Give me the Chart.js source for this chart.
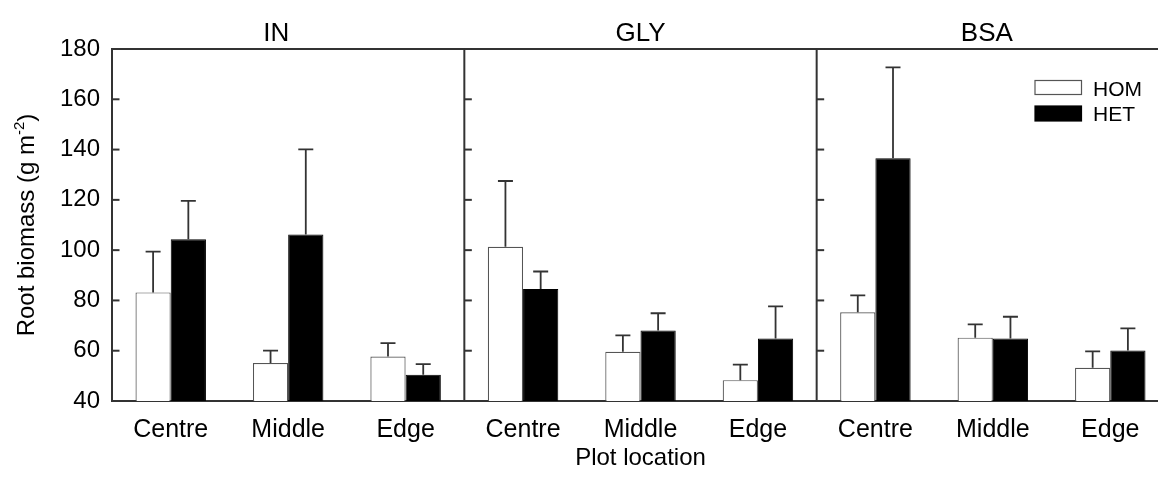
<!DOCTYPE html>
<html><head><meta charset="utf-8">
<script src="https://cdn.jsdelivr.net/npm/chart.js@4/dist/chart.umd.min.js"></script>
<style>
html,body{margin:0;padding:0;background:#fff;overflow:hidden;}
#wrap{width:1158px;height:485px;overflow:hidden;position:relative;background:#fff;}
canvas{display:block;}
</style></head><body>
<div id="wrap"><canvas id="c" width="1169" height="485"></canvas></div>
<script>
// ---- data ----
const panels = ['IN', 'GLY', 'BSA'];
const locations = ['Centre', 'Middle', 'Edge'];
// order: IN(Centre, Middle, Edge), GLY(...), BSA(...)
const homMean = [83.2, 55.1, 57.7, 101.3, 59.6, 48.3, 75.3, 65.2, 53.2];
const homSE   = [16.2, 4.9, 5.3, 26.2, 6.5, 6.2, 6.7, 5.3, 6.5];
const hetMean = [104.3, 106.2, 50.4, 84.5, 68.0, 64.9, 136.5, 64.9, 60.1];
const hetSE   = [15.3, 33.9, 4.3, 7.0, 6.9, 12.7, 36.2, 8.6, 8.8];
const yTickValues = [40, 60, 80, 100, 120, 140, 160, 180];
const seriesNames = ['HOM', 'HET'];

const xLabels = panels.flatMap(() => locations);
const FONT = "'Liberation Sans', Arial, Helvetica, sans-serif";
const AXIS = '#333333';

const framePlugin = {
  id: 'frame',
  afterDatasetsDraw(chart) {
    const ctx = chart.ctx;
    const y = chart.scales.y;
    const ses = [homSE, hetSE];
    const means = [homMean, hetMean];
    ctx.save();
    ctx.strokeStyle = AXIS; ctx.lineWidth = 1.8;
    chart.data.datasets.forEach((ds, i) => {
      const meta = chart.getDatasetMeta(i);
      meta.data.forEach((bar, j) => {
        const y0 = y.getPixelForValue(means[i][j]);
        const y1 = y.getPixelForValue(means[i][j] + ses[i][j]);
        ctx.beginPath();
        ctx.moveTo(bar.x, y0); ctx.lineTo(bar.x, y1);
        ctx.moveTo(bar.x - 7.5, y1); ctx.lineTo(bar.x + 7.5, y1);
        ctx.stroke();
      });
    });
    ctx.restore();
  },
  afterDraw(chart) {
    const ctx = chart.ctx, ca = chart.chartArea;
    const x = chart.scales.x, y = chart.scales.y;
    ctx.save();
    ctx.strokeStyle = AXIS; ctx.lineWidth = 2;
    ctx.beginPath(); ctx.moveTo(ca.left - 1, ca.top); ctx.lineTo(ca.right, ca.top); ctx.stroke();
    const lefts = [ca.left];
    for (let p = 1; p < panels.length; p++) {
      const xd = (x.getPixelForValue(p * 3 - 1) + x.getPixelForValue(p * 3)) / 2;
      lefts.push(xd);
      ctx.beginPath(); ctx.moveTo(xd, ca.top); ctx.lineTo(xd, ca.bottom); ctx.stroke();
    }
    lefts.forEach(xl => {
      yTickValues.forEach(v => {
        const yy = y.getPixelForValue(v);
        ctx.beginPath(); ctx.moveTo(xl, yy); ctx.lineTo(xl + 7.5, yy); ctx.stroke();
      });
    });
    // panel titles
    ctx.fillStyle = '#000';
    ctx.font = '26px ' + FONT;
    ctx.textAlign = 'center'; ctx.textBaseline = 'alphabetic';
    const shift = [-12, 0, -6];
    panels.forEach((t, p) => {
      const cx = x.getPixelForValue(p * 3 + 1);
      ctx.fillText(t, cx + shift[p], 41);
    });
    // y axis title with superscript
    ctx.save();
    ctx.translate(34, (ca.top + ca.bottom) / 2);
    ctx.rotate(-Math.PI / 2);
    const mainFont = '24px ' + FONT, supFont = '15px ' + FONT;
    const a = 'Root biomass (g m', sup = '-2', b = ')';
    ctx.font = mainFont;
    const wa = ctx.measureText(a).width, wb = ctx.measureText(b).width;
    ctx.font = supFont; const ws = ctx.measureText(sup).width;
    const sx = -(wa + ws + wb) / 2;
    ctx.textAlign = 'left';
    ctx.font = mainFont; ctx.fillText(a, sx, 0);
    ctx.font = supFont; ctx.fillText(sup, sx + wa, -10);
    ctx.font = mainFont; ctx.fillText(b, sx + wa + ws, 0);
    ctx.restore();
    // legend
    const ds = chart.data.datasets;
    const boxes = [[1035, 80.5, 46.5, 14], [1035, 106, 46.5, 15]];
    const baselines = [96, 121];
    ds.forEach((d, i) => {
      const [bx, by, bw, bh] = boxes[i];
      ctx.fillStyle = d.backgroundColor;
      ctx.fillRect(bx, by, bw, bh);
      ctx.lineWidth = 1.2; ctx.strokeStyle = d.borderColor;
      ctx.strokeRect(bx, by, bw, bh);
      ctx.fillStyle = '#000'; ctx.font = '21px ' + FONT;
      ctx.textAlign = 'left';
      ctx.fillText(d.label, 1093, baselines[i]);
    });
    ctx.restore();
  }
};

new Chart(document.getElementById('c'), {
  type: 'bar',
  data: {
    labels: xLabels,
    datasets: [
      { label: seriesNames[0], data: homMean, backgroundColor: '#ffffff', borderColor: '#555555', borderWidth: 1.2 },
      { label: seriesNames[1], data: hetMean, backgroundColor: '#000000', borderColor: '#000000', borderWidth: 1 }
    ]
  },
  options: {
    responsive: false,
    animation: false,
    devicePixelRatio: 1,
    layout: { padding: { top: 49, left: 0, right: 0, bottom: 0 } },
    plugins: { legend: { display: false }, tooltip: { enabled: false } },
    datasets: { bar: { categoryPercentage: 0.6, barPercentage: 1.0, borderSkipped: 'start' } },
    scales: {
      x: {
        grid: { display: false, drawTicks: false },
        border: { display: true, color: AXIS, width: 2 },
        ticks: { color: '#000', font: { family: FONT, size: 25 }, padding: 14, maxRotation: 0, autoSkip: false },
        title: { display: true, text: 'Plot location', color: '#000', font: { family: FONT, size: 24 }, padding: { top: 0, bottom: 12 } },
        afterFit(s) { s.height = 84; }
      },
      y: {
        min: 40, max: 180,
        afterBuildTicks(s) { s.ticks = yTickValues.map(v => ({ value: v })); },
        grid: { display: false, drawTicks: false },
        border: { display: true, color: AXIS, width: 2 },
        ticks: { color: '#000', font: { family: FONT, size: 24 }, padding: 12 },
        afterFit(s) { s.width = 112; }
      }
    }
  },
  plugins: [framePlugin]
});
</script>
</body></html>
